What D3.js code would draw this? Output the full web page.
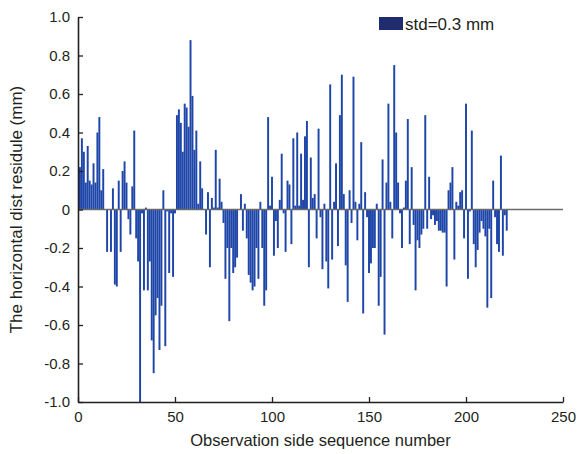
<!DOCTYPE html>
<html>
<head>
<meta charset="utf-8">
<script src="https://cdn.jsdelivr.net/npm/d3@7"></script>
<style>
  html, body { margin: 0; padding: 0; background: #fff; }
  svg { display: block; font-family: "Liberation Sans", Arial, sans-serif; }
</style>
</head>
<body>
<div id="chart"></div>
<script>
// residual per observation side, sequence number = position + 1
var residuals = [
    0.22, 0.37, 0.30, 0.14, 0.33, 0.15, 0.13, 0.24, 0.14, 0.40,
    0.48, 0.10, 0.21, 0, -0.22, 0, -0.22, 0.11, -0.39, -0.40,
    0.15, -0.22, 0.20, 0.25, 0.14, -0.05, -0.13, 0.12, 0.41, -0.15,
    -0.27, -1.0, -0.02, -0.42, 0.01, -0.42, -0.27, -0.68, -0.85, -0.55,
    -0.46, -0.73, -0.50, 0.10, -0.71, -0.01, -0.33, -0.02, -0.35, -0.02,
    0.49, 0.52, 0.45, 0.30, 0.55, 0.53, 0.43, 0.88, 0.59, 0.31,
    0.41, 0.03, 0.25, 0.11, 0, -0.13, 0.09, -0.30, 0.06, 0.01,
    0.31, 0.01, 0.16, 0.04, -0.07, -0.36, -0.20, -0.58, -0.20, -0.33,
    -0.30, -0.25, 0, 0.08, -0.11, 0.03, -0.15, -0.34, -0.38, -0.42,
    -0.40, -0.20, -0.36, 0.04, -0.20, -0.50, -0.42, 0.48, 0.02, 0.17,
    -0.24, -0.06, -0.20, 0.05, 0.29, -0.02, -0.22, 0.15, 0.13, -0.18,
    0.37, 0.02, 0.40, 0.02, 0.29, 0.05, 0.38, 0.46, -0.30, 0.27,
    0.06, 0.08, -0.15, 0.42, -0.04, -0.31, 0.03, -0.27, -0.41, 0.65,
    -0.26, 0.04, 0.24, -0.19, 0.49, 0.70, 0.08, -0.29, -0.48, 0.10,
    -0.07, 0.69, 0.04, -0.16, 0.03, 0.35, -0.54, 0.09, -0.04, -0.33,
    -0.28, -0.20, -0.20, 0.03, -0.50, -0.35, 0.26, -0.65, 0.14, 0.55,
    0.04, -0.15, 0.75, 0.40, 0.14, -0.02, -0.20, 0.01, 0.15, 0.47,
    -0.18, 0.22, -0.08, -0.42, -0.16, -0.20, -0.13, -0.10, 0.49, -0.10,
    0.17, -0.05, -0.03, -0.08, -0.06, -0.11, -0.11, -0.12, -0.12, -0.40,
    0.10, 0.14, 0.22, -0.26, 0.04, 0.02, 0.09, 0.10, -0.15, 0.55,
    -0.36, -0.01, 0.41, -0.18, -0.30, -0.21, -0.12, -0.06, -0.10, -0.14,
    -0.51, -0.10, -0.46, 0.15, -0.04, -0.18, -0.22, 0.28, -0.24, -0.03,
    -0.11
];
var xTicks = [0, 50, 100, 150, 200, 250];
var yTicks = [1.0, 0.8, 0.6, 0.4, 0.2, 0, -0.2, -0.4, -0.6, -0.8, -1.0];
var yTickLabels = ['1.0', '0.8', '0.6', '0.4', '0.2', '0', '-0.2', '-0.4', '-0.6', '-0.8', '-1.0'];
var legendLabel = 'std=0.3 mm';

var width = 581,
    height = 454,
    margin = {top: 17, right: 18, bottom: 52, left: 78};

var svg = d3.select('#chart')
    .append('svg')
    .attr('width', width)
    .attr('height', height);

var xScale = d3.scaleLinear()
    .domain([0, 250])
    .range([margin.left, width - margin.right]);

var yScale = d3.scaleLinear()
    .domain([-1, 1])
    .range([height - margin.bottom, margin.top]);

// bars, one unit wide, hanging from the zero line
svg.append('g')
    .selectAll('rect')
    .data(residuals).enter()
    .append('rect')
    .attr('x', function (d, i) { return xScale(i + 0.5); })
    .attr('width', function (d, i) { return xScale(i + 1.5) - xScale(i + 0.5); })
    .attr('y', function (d) { return yScale(Math.max(0, d)); })
    .attr('height', function (d) { return Math.abs(yScale(d) - yScale(0)); })
    .attr('fill', '#1e45a8');

// zero line
svg.append('line')
    .attr('x1', xScale(0))
    .attr('x2', xScale(250))
    .attr('y1', yScale(0))
    .attr('y2', yScale(0))
    .attr('stroke', '#6b6b6b')
    .attr('stroke-width', 1.5);

var xAxis = d3.axisBottom(xScale)
    .tickValues(xTicks)
    .tickSizeInner(-5)
    .tickSizeOuter(0)
    .tickPadding(9);

var yAxis = d3.axisLeft(yScale)
    .tickValues(yTicks)
    .tickFormat(function (d, i) { return yTickLabels[i]; })
    .tickSizeInner(-5)
    .tickSizeOuter(0)
    .tickPadding(8);

var gx = svg.append('g')
    .attr('transform', 'translate(0,' + yScale(-1) + ')')
    .call(xAxis);

var gy = svg.append('g')
    .attr('transform', 'translate(' + xScale(0) + ',0)')
    .call(yAxis);

[gx, gy].forEach(function (g) {
    g.selectAll('.domain').attr('stroke', '#231f20').attr('stroke-width', 1.6);
    g.selectAll('.tick line').attr('stroke', '#231f20').attr('stroke-width', 1.3);
    g.selectAll('.tick text')
        .attr('fill', '#231f20')
        .style('font-family', '"Liberation Sans", Arial, sans-serif')
        .style('font-size', '15px');
});

// axis titles
svg.append('text')
    .attr('x', (xScale(0) + xScale(250)) / 2)
    .attr('y', 446)
    .attr('text-anchor', 'middle')
    .attr('fill', '#231f20')
    .style('font-size', '16.5px')
    .text('Observation side sequence number');

svg.append('text')
    .attr('transform', 'translate(22,' + yScale(0) + ') rotate(-90)')
    .attr('text-anchor', 'middle')
    .attr('fill', '#231f20')
    .style('font-size', '17px')
    .text('The horizontal dist residule (mm)');

// legend
var legend = svg.append('g').attr('transform', 'translate(379,17)');
legend.append('rect')
    .attr('width', 24)
    .attr('height', 13)
    .attr('fill', '#1f2c6e');
legend.append('text')
    .attr('x', 26)
    .attr('y', 12.5)
    .attr('fill', '#231f20')
    .style('font-size', '17px')
    .text(legendLabel);
</script>
</body>
</html>
